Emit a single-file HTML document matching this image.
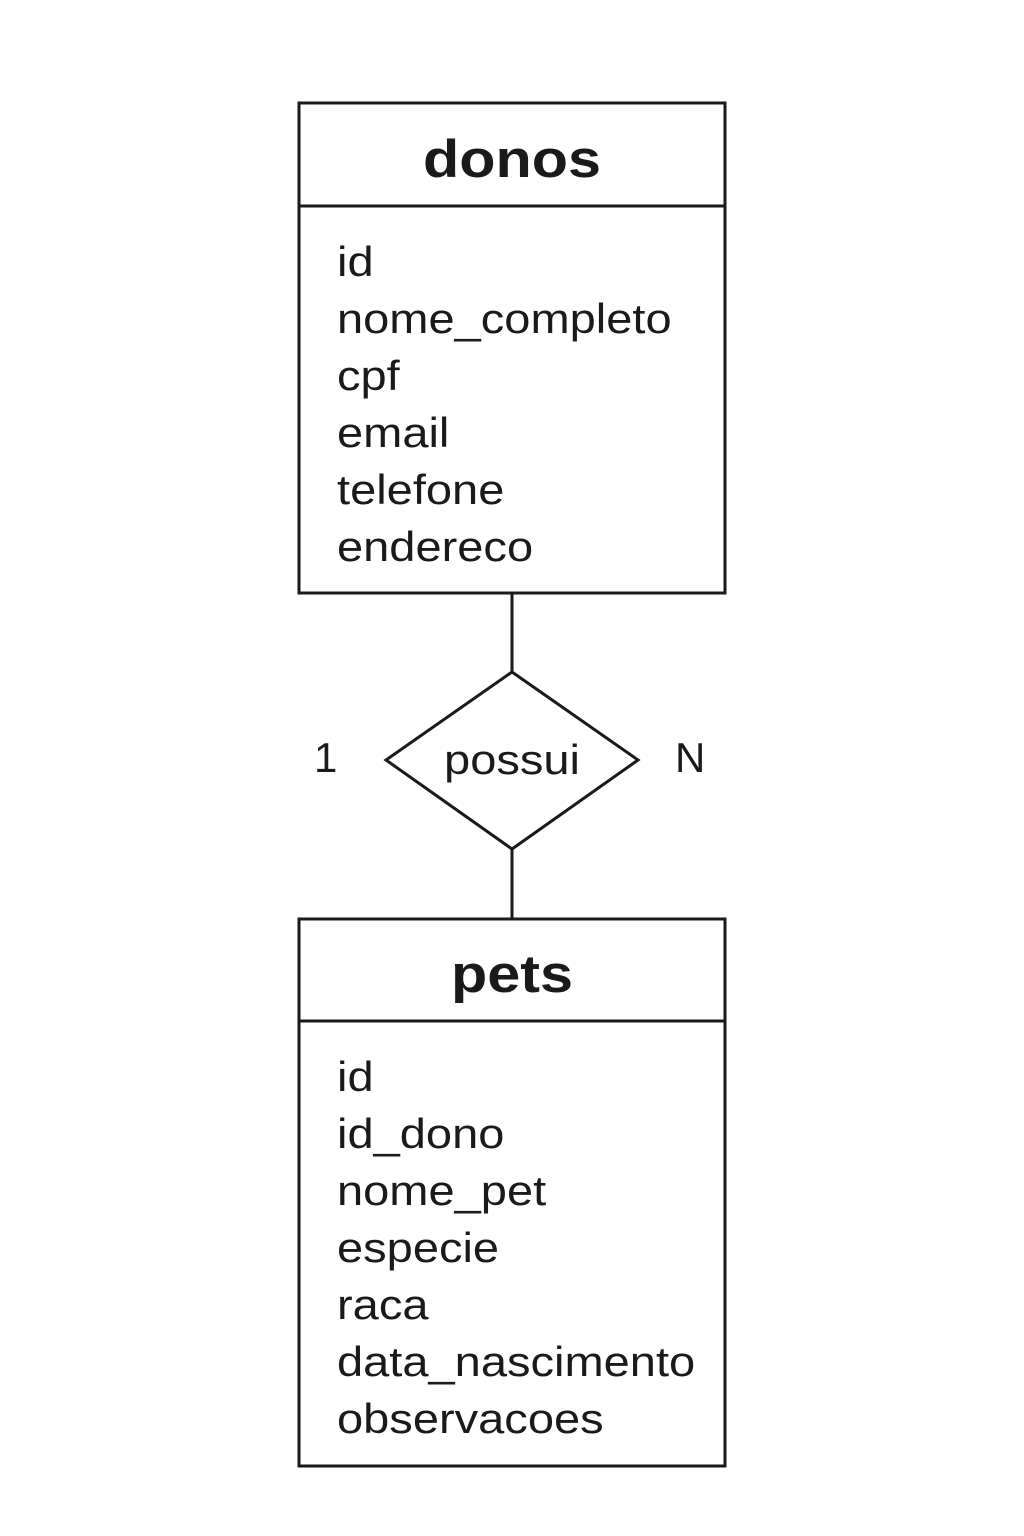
<!DOCTYPE html>
<html>
<head>
<meta charset="utf-8">
<style>
html,body{margin:0;padding:0;background:#fff;}
svg{display:block;}
text{font-family:"Liberation Sans",sans-serif;fill:#1a1a1a;}
</style>
</head>
<body>
<svg width="1024" height="1536" viewBox="0 0 1024 1536" xmlns="http://www.w3.org/2000/svg">
<rect width="1024" height="1536" fill="#fff"/>
<g stroke="#1a1a1a" stroke-width="3" fill="none">
<rect x="299" y="103" width="426" height="490"/>
<line x1="299" y1="206" x2="725" y2="206"/>
<line x1="512" y1="593" x2="512" y2="672"/>
<polygon points="512,672 638,760 512,849 386,760"/>
<line x1="512" y1="849" x2="512" y2="919"/>
<rect x="299" y="919" width="426" height="547"/>
<line x1="299" y1="1021" x2="725" y2="1021"/>
</g>
<g transform="translate(512 0) scale(1.12 1)">
<text x="0" y="177" font-size="53" font-weight="bold" text-anchor="middle">donos</text>
<text x="0" y="992" font-size="53" font-weight="bold" text-anchor="middle">pets</text>
<text x="0" y="774" font-size="42" text-anchor="middle">possui</text>
</g>
<g font-size="42" transform="translate(337 0) scale(1.12 1)">
<text x="0" y="276">id</text>
<text x="0" y="333">nome_completo</text>
<text x="0" y="390">cpf</text>
<text x="0" y="447">email</text>
<text x="0" y="504">telefone</text>
<text x="0" y="561">endereco</text>
<text x="0" y="1091">id</text>
<text x="0" y="1148">id_dono</text>
<text x="0" y="1205">nome_pet</text>
<text x="0" y="1262">especie</text>
<text x="0" y="1319">raca</text>
<text x="0" y="1376">data_nascimento</text>
<text x="0" y="1433">observacoes</text>
</g>
<g font-size="42">
<text x="314" y="772">1</text>
<text x="675" y="772">N</text>
</g>
</svg>
</body>
</html>
